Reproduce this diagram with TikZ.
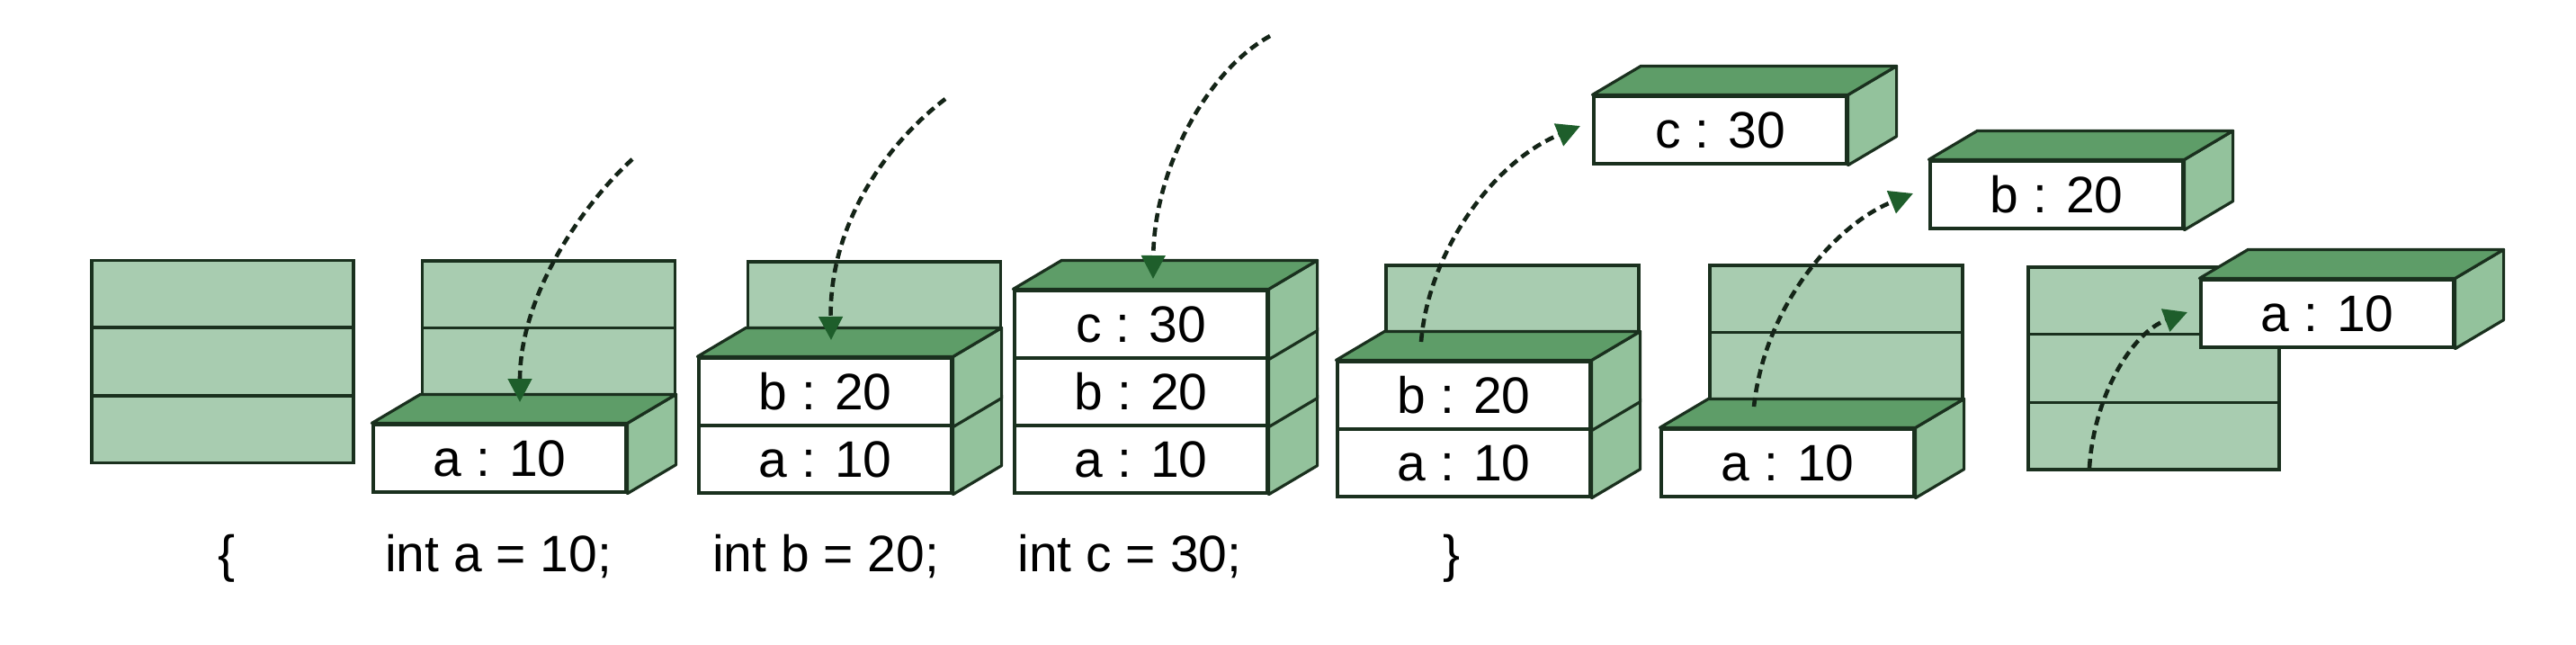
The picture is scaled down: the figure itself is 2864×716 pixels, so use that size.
\documentclass[tikz,border=0pt]{standalone}
\usepackage{fontspec}
\setmainfont{Liberation Sans}
\usetikzlibrary{arrows.meta,calc}
\definecolor{panelc}{HTML}{A8CCB0}
\definecolor{topc}{HTML}{5E9D68}
\definecolor{sidec}{HTML}{93C29C}
\definecolor{edgec}{HTML}{1A301E}
\definecolor{arrowc}{HTML}{1E5E2B}
\definecolor{dashc}{HTML}{142417}
\newcommand{\lblfont}{\fontsize{57}{60}\selectfont}
% front box with side face
\newcommand{\memcell}[4]{%
  \node[frontbox] (#1) at (#2,#3) {#4};
  \draw[sideface] (#1.north east) -- ([shift={(54,-32)}]#1.north east)
     -- ([shift={(54,-32)}]#1.south east) -- (#1.south east) -- cycle;
}
% top face of a box
\newcommand{\memtop}[1]{%
  \draw[topface] (#1.north west) -- ([shift={(54,-32)}]#1.north west)
     -- ([shift={(54,-32)}]#1.north east) -- (#1.north east) -- cycle;
}
% back panel with three slots
\newcommand{\memstack}[4]{% name, cx, cy, width
  \node[panelbox, minimum width=#4] (#1) at (#2,#3) {};
  \draw[edgeline] ($(#1.north west)!1/3!(#1.south west)$) -- ($(#1.north east)!1/3!(#1.south east)$);
  \draw[edgeline] ($(#1.north west)!2/3!(#1.south west)$) -- ($(#1.north east)!2/3!(#1.south east)$);
}
\begin{document}
\begin{tikzpicture}[x=1pt,y=-1pt,
  frontbox/.style={draw=edgec, fill=white, line width=3.2pt, minimum width=281pt,
    minimum height=75pt, inner sep=0pt, font=\lblfont},
  sideface/.style={draw=edgec, fill=sidec, line width=3.2pt, line join=round},
  topface/.style={draw=edgec, fill=topc, line width=3.2pt, line join=round},
  panelbox/.style={draw=edgec, fill=panelc, line width=3.2pt, minimum height=225pt, inner sep=0pt},
  edgeline/.style={draw=edgec, line width=3.2pt},
  codetext/.style={font=\lblfont, anchor=base, inner sep=0pt},
  flow/.style={draw=dashc, line width=4.6pt, dash pattern=on 10pt off 6pt,
    -{Triangle[length=26pt,width=26pt,color=arrowc,fill=arrowc]}}]
\useasboundingbox[fill=white] (0,0) rectangle (2864,716);

% column 1: empty stack
\memstack{p1}{247.5}{402}{291pt}

% column 2
\memstack{p2}{610}{402.5}{281pt}
\memcell{a2}{555.5}{509.5}{a : 10}
\memtop{a2}

% column 3
\memstack{p3}{972}{403.5}{281pt}
\memcell{a3}{917.5}{510.5}{a : 10}
\memcell{b3}{917.5}{435.5}{b : 20}
\memtop{b3}

% column 4
\memcell{a4}{1268.5}{510.5}{a : 10}
\memcell{b4}{1268.5}{435.5}{b : 20}
\memcell{c4}{1268.5}{360.5}{c : 30}
\memtop{c4}

% column 5
\memstack{p5}{1681.5}{407.5}{281pt}
\memcell{a5}{1627.5}{514.5}{a : 10}
\memcell{b5}{1627.5}{439.5}{b : 20}
\memtop{b5}

% column 6
\memstack{p6}{2041.5}{407.5}{281pt}
\memcell{a6}{1987.5}{514.5}{a : 10}
\memtop{a6}

% column 7
\memstack{p7}{2394.5}{409.5}{279pt}

% popped boxes
\memcell{c8}{1912.5}{144.5}{c : 30}
\memtop{c8}
\memcell{b8}{2286.5}{216.5}{b : 20}
\memtop{b8}
\memcell{a8}{2587.5}{348.5}{a : 10}
\memtop{a8}

% code labels
\node[codetext] (l1) at (252,635) {\{};
\node[codetext] (l2) at (554,635) {int a = 10;};
\node[codetext] (l3) at (918,635) {int b = 20;};
\node[codetext] (l4) at (1256,635) {int c = 30;};
\node[codetext] (l5) at (1614,635) {\}};

% arrow end points
\coordinate (s1) at (703,177);  \coordinate (t1) at (578,447);
\coordinate (s2) at (1051,110); \coordinate (t2) at (924,378);
\coordinate (s3) at (1412,40);  \coordinate (t3) at (1282,310);
\coordinate (s4) at (1580,380); \coordinate (t4) at (1757,140);
\coordinate (s5) at (1950,452); \coordinate (t5) at (2127,215);
\coordinate (s6) at (2323,520); \coordinate (t6) at (2432,347);

\draw[flow] (s1) .. controls (645,230) and (578,330) .. (t1);
\draw[flow] (s2) .. controls (985,160) and (922,250) .. (t2);
\draw[flow] (s3) .. controls (1340,80) and (1283,190) .. (t3);
\draw[flow] (s4) .. controls (1588,280) and (1660,180) .. (t4);
\draw[flow] (s5) .. controls (1962,340) and (2040,250) .. (t5);
\draw[flow] (s6) .. controls (2328,440) and (2370,370) .. (t6);
\end{tikzpicture}
\end{document}
